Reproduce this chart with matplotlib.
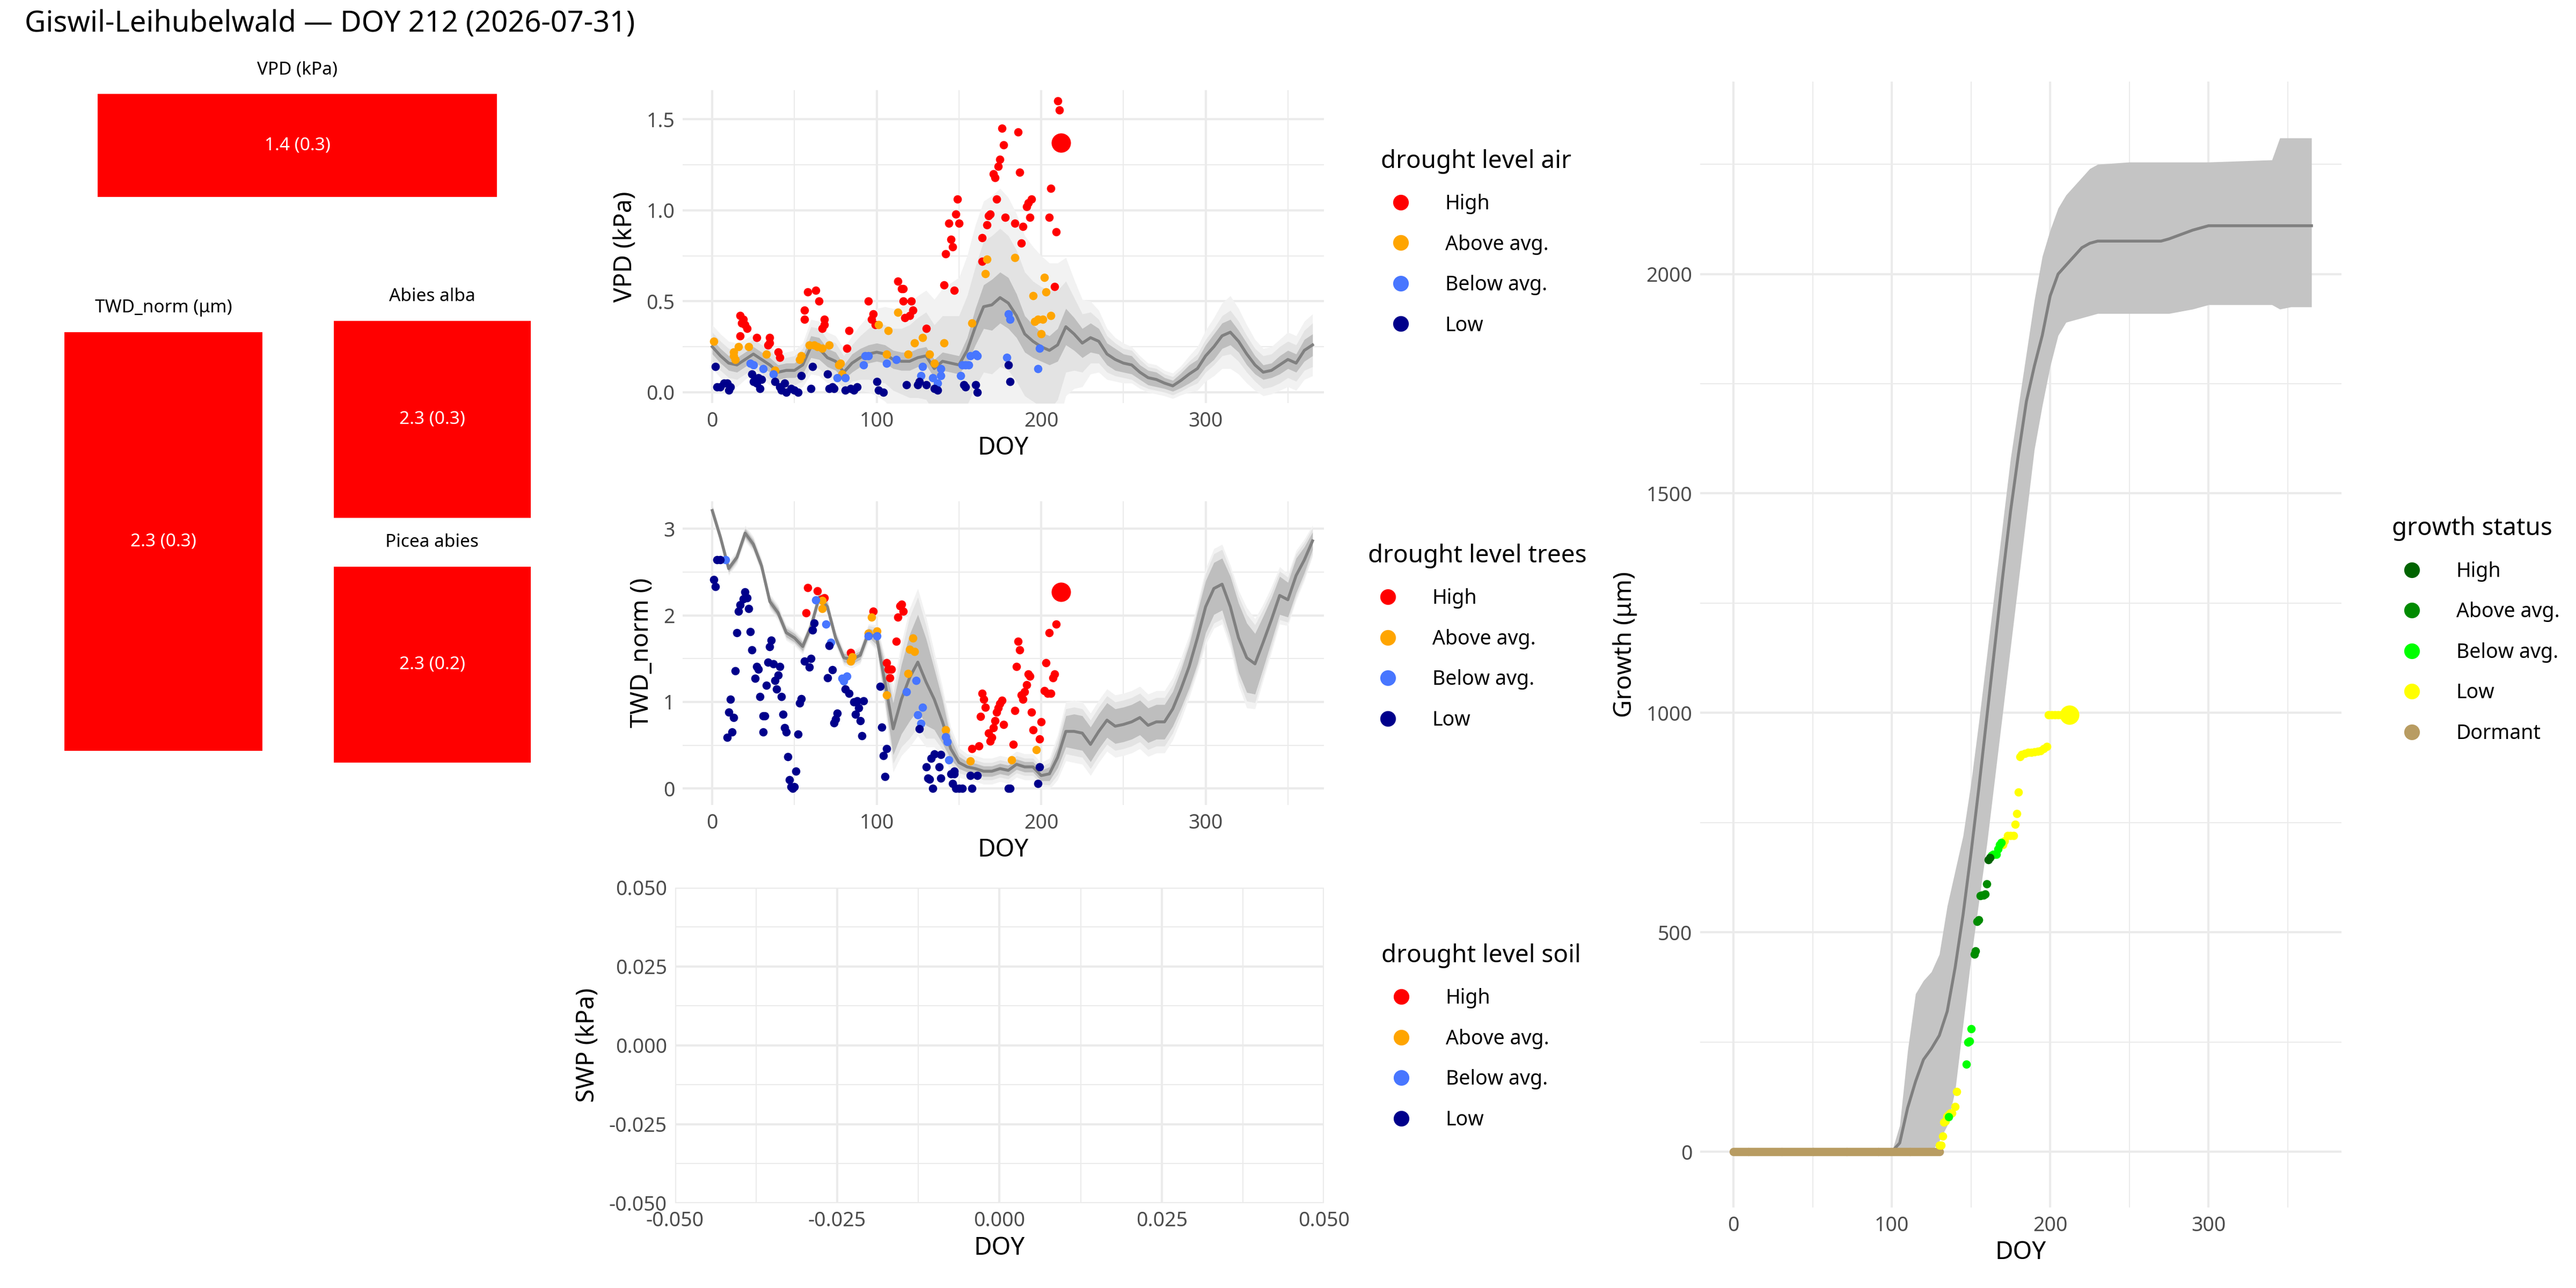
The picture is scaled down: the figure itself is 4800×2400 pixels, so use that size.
import numpy as np
import matplotlib.pyplot as plt
from matplotlib.lines import Line2D

plt.rcParams['font.family'] = ['Noto Sans', 'DejaVu Sans']

# ---------------- data ----------------
title = "Giswil-Leihubelwald \u2014 DOY 212 (2026-07-31)"

tile_labels = ["VPD (kPa)", "TWD_norm (\u03bcm)", "Abies alba", "Picea abies"]
tile_values = ["1.4 (0.3)", "2.3 (0.3)", "2.3 (0.3)", "2.3 (0.2)"]

levels = ["High", "Above avg.", "Below avg.", "Low"]
level_colors = ["#FF0000", "#FFA500", "#4876FF", "#00008B"]

grid_days = list(range(0, 366, 5))
vpd_median = [0.25, 0.20, 0.16, 0.15, 0.18, 0.21, 0.18, 0.15, 0.11, 0.12, 0.12, 0.15, 0.25, 0.24, 0.19,
              0.17, 0.11, 0.16, 0.19, 0.21, 0.22, 0.21, 0.18, 0.17, 0.17, 0.19, 0.20, 0.13, 0.17, 0.16,
              0.15, 0.23, 0.36, 0.47, 0.48, 0.52, 0.49, 0.42, 0.32, 0.28, 0.25, 0.23, 0.26, 0.36, 0.32,
              0.27, 0.30, 0.28, 0.21, 0.18, 0.16, 0.15, 0.11, 0.08, 0.07, 0.05, 0.035, 0.065, 0.10, 0.13,
              0.20, 0.25, 0.31, 0.33, 0.28, 0.21, 0.15, 0.11, 0.12, 0.15, 0.18, 0.16, 0.23, 0.26]
vpd_band1 = [0.04, 0.04, 0.04, 0.04, 0.04, 0.04, 0.04, 0.04, 0.04, 0.04, 0.04, 0.05, 0.06, 0.06, 0.05,
             0.05, 0.04, 0.05, 0.05, 0.05, 0.05, 0.05, 0.05, 0.05, 0.05, 0.05, 0.05, 0.05, 0.05, 0.05,
             0.05, 0.07, 0.10, 0.12, 0.14, 0.14, 0.14, 0.12, 0.10, 0.09, 0.08, 0.08, 0.09, 0.10, 0.09,
             0.08, 0.08, 0.07, 0.06, 0.06, 0.05, 0.05, 0.04, 0.04, 0.04, 0.03, 0.03, 0.04, 0.05, 0.05,
             0.06, 0.07, 0.07, 0.07, 0.06, 0.06, 0.05, 0.04, 0.04, 0.05, 0.05, 0.05, 0.06, 0.06]
vpd_band2 = [0.08, 0.08, 0.08, 0.08, 0.08, 0.08, 0.08, 0.08, 0.07, 0.07, 0.08, 0.09, 0.11, 0.11, 0.10,
             0.10, 0.09, 0.10, 0.12, 0.14, 0.16, 0.16, 0.17, 0.18, 0.20, 0.22, 0.24, 0.24, 0.25, 0.26,
             0.27, 0.30, 0.33, 0.36, 0.38, 0.38, 0.37, 0.36, 0.34, 0.33, 0.33, 0.33, 0.30, 0.25, 0.20,
             0.16, 0.14, 0.12, 0.10, 0.09, 0.08, 0.08, 0.07, 0.06, 0.06, 0.05, 0.05, 0.06, 0.07, 0.08,
             0.09, 0.10, 0.11, 0.12, 0.11, 0.10, 0.09, 0.09, 0.09, 0.10, 0.10, 0.10, 0.11, 0.12]
vpd_band3 = [0.12, 0.12, 0.12, 0.12, 0.11, 0.11, 0.11, 0.11, 0.10, 0.10, 0.11, 0.12, 0.15, 0.15, 0.14,
             0.14, 0.13, 0.15, 0.18, 0.21, 0.24, 0.26, 0.28, 0.30, 0.32, 0.34, 0.36, 0.38, 0.40, 0.44,
             0.48, 0.52, 0.56, 0.58, 0.60, 0.60, 0.58, 0.56, 0.54, 0.52, 0.50, 0.48, 0.45, 0.38, 0.30,
             0.24, 0.20, 0.17, 0.14, 0.12, 0.11, 0.10, 0.09, 0.08, 0.08, 0.07, 0.07, 0.08, 0.10, 0.12,
             0.14, 0.16, 0.18, 0.20, 0.18, 0.16, 0.14, 0.13, 0.13, 0.14, 0.15, 0.15, 0.16, 0.17]

vpd_high_x = [17, 19, 20, 21, 17, 18, 27, 35, 35, 34, 40, 41, 56, 56, 58, 63, 65, 67, 68, 68, 83, 82, 95, 97,
              98, 99, 113, 115, 116, 116, 117, 120, 121, 122, 130, 141, 142, 144, 145, 146, 147, 148, 149,
              150, 164, 164, 167, 168, 169, 171, 172, 173, 174, 175, 176, 177, 178, 184, 186, 187, 188, 189,
              191, 192, 193, 194, 205, 206, 208, 209, 210, 211]
vpd_high_y = [0.42, 0.40, 0.37, 0.35, 0.31, 0.38, 0.30, 0.30, 0.27, 0.26, 0.22, 0.19, 0.40, 0.45, 0.55, 0.56,
              0.50, 0.35, 0.40, 0.37, 0.34, 0.24, 0.50, 0.40, 0.43, 0.37, 0.61, 0.57, 0.57, 0.50, 0.41, 0.42,
              0.50, 0.45, 0.35, 0.59, 0.76, 0.93, 0.84, 0.80, 0.56, 0.98, 1.06, 0.93, 0.72, 0.85, 0.92, 0.97,
              0.98, 1.20, 1.18, 1.06, 1.24, 1.28, 1.45, 1.36, 0.96, 0.93, 1.43, 1.21, 0.82, 0.91, 1.02, 1.04,
              0.96, 1.06, 0.96, 1.12, 0.58, 0.88, 1.60, 1.55]
vpd_above_x = [1, 13, 13, 14, 16, 22, 33, 38, 53, 54, 59, 62, 64, 67, 71, 77, 78, 79, 101, 107, 106, 113,
               119, 123, 128, 132, 135, 141, 158, 166, 167, 184, 195, 196, 198, 200, 201, 202, 203, 206]
vpd_above_y = [0.28, 0.20, 0.22, 0.18, 0.25, 0.25, 0.21, 0.12, 0.18, 0.20, 0.26, 0.26, 0.25, 0.24, 0.26,
               0.15, 0.16, 0.10, 0.37, 0.34, 0.21, 0.44, 0.21, 0.27, 0.30, 0.21, 0.16, 0.27, 0.38, 0.65,
               0.73, 0.74, 0.53, 0.39, 0.40, 0.32, 0.40, 0.63, 0.55, 0.42]
vpd_below_x = [23, 25, 31, 37, 76, 81, 92, 93, 95, 106, 112, 127, 128, 134, 137, 139, 139, 151, 152, 154,
               156, 157, 160, 161, 180, 181, 179, 198, 199]
vpd_below_y = [0.16, 0.15, 0.13, 0.10, 0.08, 0.08, 0.15, 0.20, 0.20, 0.16, 0.18, 0.09, 0.14, 0.08, 0.05,
               0.13, 0.09, 0.09, 0.15, 0.15, 0.15, 0.20, 0.21, 0.20, 0.43, 0.40, 0.19, 0.13, 0.24]
vpd_low_x = [2, 3, 5, 7, 9, 10, 11, 24, 25, 27, 28, 29, 30, 38, 41, 42, 44, 45, 48, 50, 52, 54, 60, 61, 70,
             71, 73, 74, 81, 84, 86, 88, 100, 101, 104, 118, 125, 126, 130, 135, 137, 153, 154, 160, 161,
             180, 181]
vpd_low_y = [0.14, 0.03, 0.03, 0.05, 0.05, 0.01, 0.03, 0.10, 0.06, 0.05, 0.08, 0.02, 0.07, 0.06, 0.03, 0.01,
             0.05, 0.00, 0.02, 0.01, 0.00, 0.09, 0.02, 0.14, 0.10, 0.02, 0.03, 0.02, 0.01, 0.02, 0.01, 0.03,
             0.06, 0.01, 0.00, 0.04, 0.04, 0.06, 0.04, 0.02, 0.01, 0.04, 0.03, 0.04, 0.00, 0.15, 0.06]
vpd_today = (212, 1.37)

twd_median = [3.21, 2.90, 2.54, 2.67, 2.95, 2.82, 2.57, 2.16, 2.03, 1.80, 1.74, 1.64, 1.87, 2.21, 2.10,
              1.74, 1.51, 1.49, 1.54, 1.80, 1.74, 1.23, 0.69, 1.03, 1.28, 1.46, 1.23, 1.03, 0.77, 0.46,
              0.30, 0.25, 0.23, 0.20, 0.20, 0.23, 0.21, 0.28, 0.25, 0.25, 0.15, 0.17, 0.36, 0.66, 0.66,
              0.64, 0.51, 0.66, 0.79, 0.72, 0.74, 0.77, 0.82, 0.73, 0.77, 0.77, 0.92, 1.15, 1.41, 1.74,
              2.10, 2.31, 2.36, 2.10, 1.74, 1.51, 1.44, 1.69, 1.95, 2.23, 2.18, 2.46, 2.64, 2.86]
twd_band1 = [0.04, 0.04, 0.04, 0.04, 0.05, 0.05, 0.05, 0.05, 0.05, 0.05, 0.05, 0.05, 0.05, 0.05, 0.05,
             0.05, 0.05, 0.05, 0.05, 0.05, 0.08, 0.20, 0.30, 0.40, 0.50, 0.55, 0.50, 0.35, 0.25, 0.12,
             0.07, 0.06, 0.06, 0.06, 0.06, 0.06, 0.06, 0.06, 0.06, 0.06, 0.06, 0.08, 0.12, 0.18, 0.20,
             0.20, 0.20, 0.20, 0.20, 0.20, 0.20, 0.20, 0.20, 0.20, 0.20, 0.20, 0.20, 0.22, 0.25, 0.30,
             0.30, 0.30, 0.30, 0.35, 0.40, 0.40, 0.35, 0.30, 0.25, 0.22, 0.20, 0.20, 0.15, 0.10]
twd_band2 = [0.06, 0.06, 0.06, 0.06, 0.07, 0.07, 0.07, 0.07, 0.07, 0.07, 0.07, 0.07, 0.07, 0.07, 0.07,
             0.07, 0.07, 0.07, 0.08, 0.08, 0.12, 0.25, 0.40, 0.55, 0.70, 0.75, 0.65, 0.45, 0.32, 0.18,
             0.12, 0.10, 0.10, 0.10, 0.10, 0.10, 0.10, 0.10, 0.10, 0.10, 0.10, 0.13, 0.20, 0.26, 0.28,
             0.28, 0.28, 0.28, 0.28, 0.28, 0.28, 0.28, 0.28, 0.28, 0.28, 0.28, 0.28, 0.28, 0.30, 0.35,
             0.38, 0.40, 0.40, 0.42, 0.48, 0.50, 0.45, 0.38, 0.32, 0.28, 0.26, 0.25, 0.20, 0.15]
twd_band3 = [0.08, 0.08, 0.08, 0.08, 0.09, 0.09, 0.09, 0.09, 0.09, 0.09, 0.09, 0.09, 0.09, 0.09, 0.09,
             0.09, 0.09, 0.10, 0.10, 0.10, 0.15, 0.30, 0.50, 0.65, 0.80, 0.85, 0.75, 0.55, 0.40, 0.25,
             0.17, 0.15, 0.15, 0.15, 0.15, 0.15, 0.15, 0.15, 0.15, 0.15, 0.15, 0.18, 0.26, 0.34, 0.36,
             0.36, 0.36, 0.36, 0.36, 0.36, 0.36, 0.36, 0.36, 0.36, 0.36, 0.36, 0.36, 0.36, 0.36, 0.40,
             0.44, 0.46, 0.46, 0.48, 0.55, 0.58, 0.52, 0.44, 0.38, 0.33, 0.30, 0.29, 0.24, 0.18]

twd_low_x = [1, 2, 3, 5, 9, 10, 11, 12, 13, 14, 15, 16, 17, 19, 20, 21, 22, 23, 24, 26, 27, 28, 29, 31, 31,
             32, 33, 34, 35, 36, 37, 38, 39, 40, 41, 42, 43, 44, 45, 46, 47, 48, 49, 50, 51, 52, 53, 54, 56,
             59, 60, 61, 62, 70, 71, 73, 74, 75, 76, 81, 83, 86, 87, 88, 89, 90, 91, 92, 102, 103, 104, 105,
             106, 126, 130, 131, 132, 133, 134, 135, 138, 139, 139, 145, 146, 147, 147, 148, 150, 152, 157,
             158, 161, 180, 181, 198, 199]
twd_low_y = [2.41, 2.33, 2.64, 2.64, 0.59, 0.88, 1.03, 0.65, 0.82, 1.36, 1.80, 2.05, 2.12, 2.19, 2.27, 2.20,
             2.08, 1.81, 1.60, 1.27, 1.41, 1.38, 1.06, 0.84, 0.65, 0.84, 1.19, 1.46, 1.64, 1.71, 1.44, 1.25,
             1.15, 1.31, 1.41, 1.06, 0.86, 0.70, 0.65, 0.37, 0.10, 0.02, 0.00, 0.02, 0.20, 0.63, 0.99, 1.04,
             1.47, 1.40, 1.50, 1.83, 1.91, 1.28, 1.65, 1.37, 0.76, 0.80, 0.87, 1.15, 1.10, 1.00, 0.86, 1.01,
             0.93, 0.78, 0.61, 1.01, 1.18, 0.71, 0.38, 0.14, 0.46, 0.69, 0.25, 0.12, 0.11, 0.35, 0.00, 0.40,
             0.25, 0.39, 0.12, 0.17, 0.06, 0.20, 0.17, 0.00, 0.00, 0.00, 0.15, 0.00, 0.15, 0.00, 0.00, 0.06,
             0.25]
twd_below_x = [8, 63, 69, 72, 79, 80, 82, 95, 100, 118, 124, 125, 127, 128, 142, 143, 144]
twd_below_y = [2.64, 2.18, 1.90, 1.69, 1.27, 1.24, 1.30, 1.76, 1.76, 1.12, 1.25, 0.85, 0.75, 0.94, 0.60,
               0.54, 0.33]
twd_above_x = [67, 67, 84, 85, 95, 97, 100, 106, 119, 120, 122, 123, 142, 157, 182, 197]
twd_above_y = [2.17, 2.08, 1.47, 1.52, 1.79, 1.98, 1.82, 1.08, 1.33, 1.61, 1.74, 1.58, 0.68, 0.32, 0.33,
               0.45]
twd_high_x = [57, 58, 64, 67, 68, 84, 98, 112, 113, 114, 115, 116, 106, 107, 108, 109, 158, 162, 163, 164,
              165, 166, 168, 169, 170, 171, 172, 173, 174, 175, 176, 177, 183, 184, 185, 186, 187, 188, 189,
              190, 191, 192, 193, 194, 195, 199, 200, 202, 203, 204, 205, 206, 207, 208, 209]
twd_high_y = [2.03, 2.32, 2.28, 2.19, 2.20, 1.57, 2.05, 1.70, 1.98, 2.11, 2.13, 2.05, 1.45, 1.38, 1.28, 1.38,
              0.46, 0.49, 0.83, 1.10, 1.03, 0.94, 0.64, 0.55, 0.59, 0.70, 0.78, 0.88, 0.93, 0.98, 1.02, 0.74,
              0.51, 0.90, 1.41, 1.70, 1.60, 1.08, 1.03, 1.12, 1.20, 1.32, 1.30, 0.88, 0.68, 0.57, 0.77, 1.13,
              1.45, 1.10, 1.80, 1.10, 1.28, 1.32, 1.90]
twd_today = (212, 2.27)

growth_levels = ["High", "Above avg.", "Below avg.", "Low", "Dormant"]
growth_colors = ["#006400", "#008B00", "#00FF00", "#FFFF00", "#B89C62"]

growth_days = [0, 100, 105, 110, 115, 120, 125, 130, 135, 140, 145, 150, 155, 160, 165, 170, 175, 180, 185,
               190, 195, 200, 205, 210, 215, 220, 225, 230, 250, 270, 275, 290, 300, 340, 345, 352, 365]
growth_median = [0, 0, 20, 100, 160, 210, 235, 265, 320, 420, 540, 680, 830, 990, 1150, 1310, 1460, 1590,
                 1710, 1790, 1860, 1950, 2000, 2020, 2040, 2060, 2070, 2075, 2075, 2075, 2080, 2100, 2110,
                 2110, 2110, 2110, 2110]
growth_lower = [0, 0, 0, 0, 0, 0, 0, 25, 60, 140, 290, 440, 570, 700, 850, 1000, 1150, 1300, 1450, 1600,
                1700, 1790, 1860, 1890, 1895, 1900, 1905, 1910, 1910, 1910, 1910, 1920, 1930, 1930, 1920,
                1925, 1925]
growth_upper = [0, 0, 60, 230, 360, 390, 410, 450, 560, 640, 720, 840, 980, 1130, 1280, 1430, 1580, 1700,
                1820, 1940, 2040, 2100, 2150, 2180, 2200, 2220, 2240, 2250, 2255, 2255, 2255, 2255, 2255,
                2260, 2310, 2310, 2310]

dormant_x = list(range(0, 131))
dormant_y = [0] * 131
glow_x = [130, 131, 132, 133, 134, 135, 136, 137, 138, 140, 141, 170, 171, 173, 175, 177, 178, 179, 180,
          181, 182, 184, 186, 188, 190, 192, 194, 196, 198, 199, 201, 203, 205, 207, 209]
glow_y = [15, 15, 36, 67, 70, 81, 85, 88, 88, 103, 137, 700, 708, 721, 721, 721, 746, 771, 820, 900, 905,
          908, 910, 910, 911, 912, 914, 918, 923, 995, 995, 995, 995, 995, 995]
gbelow_x = [136, 147, 148, 149, 150, 163, 164, 165, 166, 167, 168, 169]
gbelow_y = [80, 200, 250, 252, 280, 675, 678, 678, 678, 690, 700, 705]
gabove_x = [152, 153, 154, 155, 156, 157, 158, 159, 160]
gabove_y = [450, 458, 525, 528, 583, 585, 585, 587, 610]
ghigh_x = [161, 162]
ghigh_y = [665, 670]
growth_today = (212, 995)

# ---------------- figure ----------------
fig = plt.figure(figsize=(16, 8), dpi=300)
fig.text(0.0095, 0.993, title, fontsize=13, va='top', ha='left')

GRID = '#EBEBEB'
PT = 14     # point size
BIG = 75    # today's point


def style_axes(ax):
    for s in ax.spines.values():
        s.set_visible(False)
    ax.grid(True, which='major', color=GRID, lw=1.0)
    ax.grid(True, which='minor', color=GRID, lw=0.5)
    ax.tick_params(which='both', length=0, labelsize=9, labelcolor='#4D4D4D')
    ax.set_axisbelow(True)


def add_legend(ax, title_text, names, colors, x, y):
    handles = [Line2D([], [], marker='o', ls='', color=c, markersize=6, label=n)
               for n, c in zip(names, colors)]
    leg = ax.legend(handles=handles, title=title_text, loc='upper left', bbox_to_anchor=(x, y),
                    frameon=False, fontsize=9, title_fontsize=11, labelspacing=1.0,
                    handletextpad=1.2, alignment='left')
    return leg


# tiles
tiles = [[0.038, 0.847, 0.155, 0.080], [0.0249, 0.417, 0.077, 0.325],
         [0.1295, 0.598, 0.0765, 0.153], [0.1295, 0.408, 0.0765, 0.152]]
for rect, lab, val in zip(tiles, tile_labels, tile_values):
    tax = fig.add_axes(rect)
    tax.set_facecolor('#FF0000')
    tax.set_xticks([])
    tax.set_yticks([])
    for s in tax.spines.values():
        s.set_visible(False)
    tax.text(0.5, 0.5, val, color='white', ha='center', va='center', fontsize=8, transform=tax.transAxes)
    fig.text(rect[0] + rect[2] / 2, rect[1] + rect[3] + 0.012, lab, ha='center', va='bottom', fontsize=8)


def season_panel(ax, median, bands, pts, today):
    d = np.array(grid_days)
    m = np.array(median)
    for b, c in zip(bands, ['#F2F2F2', '#E3E3E3', '#BEBEBE']):
        ax.fill_between(d, m - np.array(b), m + np.array(b), color=c, lw=0, zorder=1)
    ax.plot(d, m, color='#808080', lw=1.3, zorder=2)
    for (xs, ys), c in zip(pts, level_colors):
        ax.scatter(xs, ys, s=PT, color=c, zorder=3, lw=0)
    ax.scatter([today[0]], [today[1]], s=BIG, color='#FF0000', zorder=4, lw=0)
    style_axes(ax)
    ax.set_xlim(-18, 372)
    ax.set_xticks([0, 100, 200, 300])
    ax.set_xticks([50, 150, 250, 350], minor=True)
    ax.set_xlabel('DOY', fontsize=11, labelpad=2)


# VPD panel
ax1 = fig.add_axes([0.265, 0.687, 0.249, 0.243])
season_panel(ax1, vpd_median, [vpd_band3, vpd_band2, vpd_band1],
             [(vpd_high_x, vpd_high_y), (vpd_above_x, vpd_above_y),
              (vpd_below_x, vpd_below_y), (vpd_low_x, vpd_low_y)], vpd_today)
ax1.set_ylim(-0.06, 1.66)
ax1.set_yticks([0.0, 0.5, 1.0, 1.5])
ax1.set_yticklabels(['0.0', '0.5', '1.0', '1.5'])
ax1.set_yticks([0.25, 0.75, 1.25], minor=True)
ax1.set_ylabel('VPD (kPa)', fontsize=11)
add_legend(ax1, 'drought level air', levels, level_colors, 1.06, 0.87)

# TWD panel
ax2 = fig.add_axes([0.265, 0.375, 0.249, 0.236])
season_panel(ax2, twd_median, [twd_band3, twd_band2, twd_band1],
             [(twd_high_x, twd_high_y), (twd_above_x, twd_above_y),
              (twd_below_x, twd_below_y), (twd_low_x, twd_low_y)], twd_today)
ax2.set_ylim(-0.19, 3.32)
ax2.set_yticks([0, 1, 2, 3])
ax2.set_yticks([0.5, 1.5, 2.5], minor=True)
ax2.set_ylabel('TWD_norm ()', fontsize=11)
add_legend(ax2, 'drought level trees', levels, level_colors, 1.04, 0.92)

# SWP panel (no data)
ax3 = fig.add_axes([0.262, 0.066, 0.252, 0.245])
style_axes(ax3)
ax3.set_xlim(-0.05, 0.05)
ax3.set_ylim(-0.05, 0.05)
ticks = [-0.05, -0.025, 0.0, 0.025, 0.05]
ax3.set_xticks(ticks)
ax3.set_yticks(ticks)
ax3.set_xticklabels(['-0.050', '-0.025', '0.000', '0.025', '0.050'])
ax3.set_yticklabels(['-0.050', '-0.025', '0.000', '0.025', '0.050'])
ax3.set_xticks([-0.0375, -0.0125, 0.0125, 0.0375], minor=True)
ax3.set_yticks([-0.0375, -0.0125, 0.0125, 0.0375], minor=True)
ax3.set_xlabel('DOY', fontsize=11, labelpad=2)
ax3.set_ylabel('SWP (kPa)', fontsize=11)
add_legend(ax3, 'drought level soil', levels, level_colors, 1.06, 0.88)

# Growth panel
ax4 = fig.add_axes([0.660, 0.0625, 0.249, 0.874])
style_axes(ax4)
ax4.fill_between(growth_days, growth_lower, growth_upper, color='#C4C4C4', lw=0, zorder=1)
ax4.plot(growth_days, growth_median, color='#808080', lw=1.3, zorder=2)
ax4.scatter(dormant_x, dormant_y, s=PT, color=growth_colors[4], lw=0, zorder=3)
ax4.scatter(glow_x, glow_y, s=PT, color=growth_colors[3], lw=0, zorder=3)
ax4.scatter(gbelow_x, gbelow_y, s=PT, color=growth_colors[2], lw=0, zorder=3)
ax4.scatter(gabove_x, gabove_y, s=PT, color=growth_colors[1], lw=0, zorder=3)
ax4.scatter(ghigh_x, ghigh_y, s=PT, color=growth_colors[0], lw=0, zorder=3)
ax4.scatter([growth_today[0]], [growth_today[1]], s=BIG, color=growth_colors[3], lw=0, zorder=4)
ax4.set_xlim(-21, 384)
ax4.set_ylim(-127, 2438)
ax4.set_xticks([0, 100, 200, 300])
ax4.set_xticks([50, 150, 250, 350], minor=True)
ax4.set_yticks([0, 500, 1000, 1500, 2000])
ax4.set_yticks([250, 750, 1250, 1750, 2250], minor=True)
ax4.set_xlabel('DOY', fontsize=11, labelpad=2)
ax4.set_ylabel('Growth (\u03bcm)', fontsize=11)
add_legend(ax4, 'growth status', growth_levels, growth_colors, 1.05, 0.63)

fig.savefig('out.png', dpi=300, facecolor='white')
